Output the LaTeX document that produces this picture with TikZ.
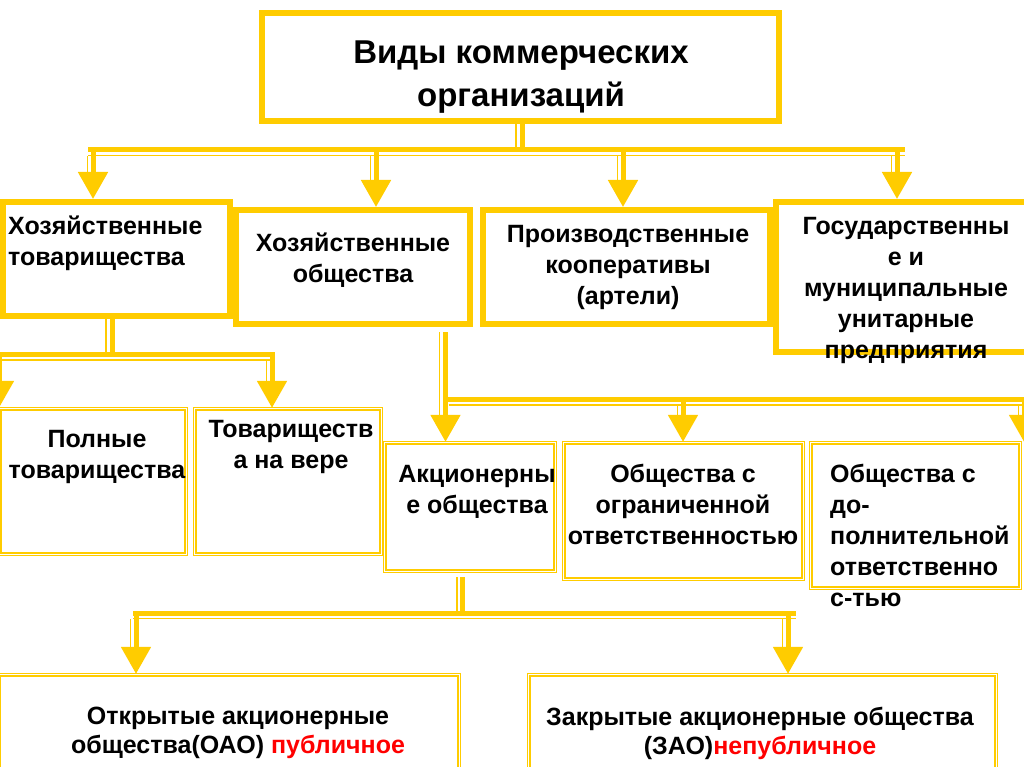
\documentclass[tikz,border=0pt]{standalone}
\usepackage{fontspec}
\setmainfont{Liberation Sans}
\usetikzlibrary{
    arrows.meta,
    calc
}
\definecolor{gold}{HTML}{FFCC00}
\definecolor{note red}{HTML}{FF0000}
\tikzset {
    main box/.style = {draw = gold, line width = 5.5pt, inner sep = 0pt},
    sub box/.style = {draw = gold, line width = 1.7pt, double = white, double distance = 0.9pt, inner sep = 0pt},
    inner frame/.style = {draw = gold, line width = 1.8pt},
    head text/.style = {font = \fontsize{33}{43}\selectfont\bfseries, align = center, inner sep = 0pt},
    box text/.style = {font = \fontsize{25}{31}\selectfont\bfseries, align = center, inner sep = 0pt},
    foot text/.style = {font = \fontsize{25}{29}\selectfont\bfseries, align = center, inner sep = 0pt},
    thick rail/.style = {draw = gold, line width = 5pt},
    thin rail/.style = {draw = gold, line width = 1.9pt},
    arrowed/.style = {-{Triangle[width = 29pt, length = 27pt]}}
}

\begin{document}
\begin{tikzpicture}[x = 1pt, y = -1pt]
    \useasboundingbox [fill = white] (0, 0) rectangle (1024, 767);
    % boxes
    \node (title) [main box, minimum width = 517.5pt, minimum height = 108.5pt] at (520.5, 67) {};
    \node (ht) [main box, minimum width = 227.5pt, minimum height = 114.5pt] at (116.5, 259) {};
    \node (ho) [main box, minimum width = 234.5pt, minimum height = 114.5pt] at (353, 267) {};
    \node (pk) [main box, minimum width = 287.5pt, minimum height = 114.5pt] at (626.5, 267) {};
    \node (gmup) [main box, minimum width = 251.5pt, minimum height = 150.5pt] at (901.5, 277) {};
    \foreach \n in {title, ht, ho, pk, gmup}
        \draw [inner frame] ([shift = {(5.2pt, -5.2pt)}] \n.north west) rectangle ([shift = {(-5.2pt, 5.2pt)}] \n.south east);
    \node (pt) [sub box, minimum width = 186.6pt, minimum height = 145.6pt] at (93, 481.5) {};
    \node (tv) [sub box, minimum width = 186.6pt, minimum height = 145.6pt] at (288, 481.5) {};
    \node (ao) [sub box, minimum width = 170.6pt, minimum height = 128.6pt] at (470, 507) {};
    \node (oo) [sub box, minimum width = 239.6pt, minimum height = 136.6pt] at (683.5, 511) {};
    \node (od) [sub box, minimum width = 209.6pt, minimum height = 145.6pt] at (915.5, 515.5) {};
    \node (oao) [sub box, minimum width = 460.6pt, minimum height = 103.6pt] at (229, 726.5) {};
    \node (zao) [sub box, minimum width = 467.6pt, minimum height = 103.6pt] at (762.5, 726.5) {};
    % texts
    \node (title text) [head text, anchor = north] at (521, 41) {Виды коммерческих\\организаций};
    \node (ht text) [box text, align = left, anchor = north west] at (8, 216) {Хозяйственные\\товарищества};
    \node (ho text) [box text, anchor = north] at (353, 233) {Хозяйственные\\общества};
    \node (pk text) [box text, anchor = north] at (628, 225) {Производственные\\кооперативы\\(артели)};
    \node (gmup text) [box text, anchor = north] at (906, 217) {Государственны\\е и\\муниципальные\\унитарные\\предприятия};
    \node (pt text) [box text, anchor = north] at (97, 430) {Полные\\товарищества};
    \node (tv text) [box text, anchor = north] at (291, 420) {Товариществ\\а на вере};
    \node (ao text) [box text, anchor = north] at (477, 465) {Акционерны\\е общества};
    \node (oo text) [box text, anchor = north] at (683, 464) {Общества с\\ограниченной\\ответственностью};
    \node (od text) [box text, align = left, anchor = north west] at (830, 464) {Общества с\\до-\\полнительной\\ответственно\\с-тью};
    \node (oao text) [foot text, anchor = north] at (238, 707) {Открытые акционерные\\общества(ОАО) \textcolor{note red}{публичное}};
    \node (zao text) [foot text, anchor = north] at (760, 707) {Закрытые акционерные общества\\(ЗАО)\textcolor{note red}{непубличное}};
    % first level
    \coordinate (top l) at (88, 150);
    \coordinate (top r) at (905, 150);
    \draw [thick rail] ([xshift = 1.5pt] title.south) -- ([xshift = 1.5pt] title.south |- top l);
    \draw [thin rail] ([xshift = -4.5pt] title.south) -- ([xshift = -4.5pt] title.south |- top l);
    \draw [thick rail] (top l) -- (top r);
    \draw [thin rail] ([yshift = -5.5pt] top l) -- ([yshift = -5.5pt] top r);
    \foreach \x/\n in {93/ht, 376/ho, 623/pk, 897/gmup} {
        \coordinate (a \n) at (\x, 150);
        \draw [thick rail, arrowed] (a \n) -- (a \n |- \n.north);
        \draw [thin rail] ([shift = {(-5.5pt, -6pt)}] a \n) -- ([shift = {(-5.5pt, 27pt)}] a \n |- \n.north);
    }
    % partnerships
    \coordinate (ht l) at (-5, 354.5);
    \coordinate (ht r) at (275, 354.5);
    \draw [thick rail] ([xshift = -4.5pt] ht.south) -- ([xshift = -4.5pt] ht.south |- ht l);
    \draw [thin rail] ([xshift = -10.5pt] ht.south) -- ([xshift = -10.5pt] ht.south |- ht l);
    \draw [thick rail] (ht l) -- (ht r);
    \draw [thin rail] ([yshift = -5.5pt] ht l) -- ([yshift = -5.5pt] ht r);
    \foreach \x/\n in {-1/pt, 272/tv} {
        \coordinate (a \n) at (\x, 354.5);
        \draw [thick rail, arrowed] (a \n) -- (a \n |- \n.north);
        \draw [thin rail] ([shift = {(-5.5pt, -6pt)}] a \n) -- ([shift = {(-5.5pt, 27pt)}] a \n |- \n.north);
    }
    % companies
    \coordinate (ho l) at (445.5, 399.5);
    \coordinate (ho r) at (1030, 399.5);
    \draw [thick rail, arrowed] ([shift = {(92.5pt, -5pt)}] ho.south) -- ([xshift = 92.5pt] ho.south |- ao.north);
    \draw [thin rail] ([shift = {(86.5pt, -5pt)}] ho.south) -- ([shift = {(86.5pt, 27pt)}] ho.south |- ao.north);
    \draw [thick rail] (ho l) -- (ho r);
    \draw [thin rail] ([shift = {(3pt, -5.5pt)}] ho l) -- ([yshift = -5.5pt] ho r);
    \foreach \x/\n in {683/oo, 1024/od} {
        \coordinate (a \n) at (\x, 399.5);
        \draw [thick rail, arrowed] (a \n) -- (a \n |- \n.north);
        \draw [thin rail] ([shift = {(-5.5pt, -6pt)}] a \n) -- ([shift = {(-5.5pt, 27pt)}] a \n |- \n.north);
    }
    % joint-stock companies
    \coordinate (ao l) at (133, 613);
    \coordinate (ao r) at (796, 613);
    \draw [thick rail] ([shift = {(-8pt, -5pt)}] ao.south) -- ([xshift = -8pt] ao.south |- ao l);
    \draw [thin rail] ([shift = {(-13pt, -5pt)}] ao.south) -- ([xshift = -13pt] ao.south |- ao l);
    \draw [thick rail] (ao l) -- (ao r);
    \draw [thin rail] ([yshift = -5.5pt] ao l) -- ([yshift = -5.5pt] ao r);
    \foreach \x/\n in {136/oao, 788/zao} {
        \coordinate (a \n) at (\x, 613);
        \draw [thick rail, arrowed] (a \n) -- (a \n |- \n.north);
        \draw [thin rail] ([shift = {(-5.5pt, -6pt)}] a \n) -- ([shift = {(-5.5pt, 27pt)}] a \n |- \n.north);
    }
\end{tikzpicture}
\end{document}
